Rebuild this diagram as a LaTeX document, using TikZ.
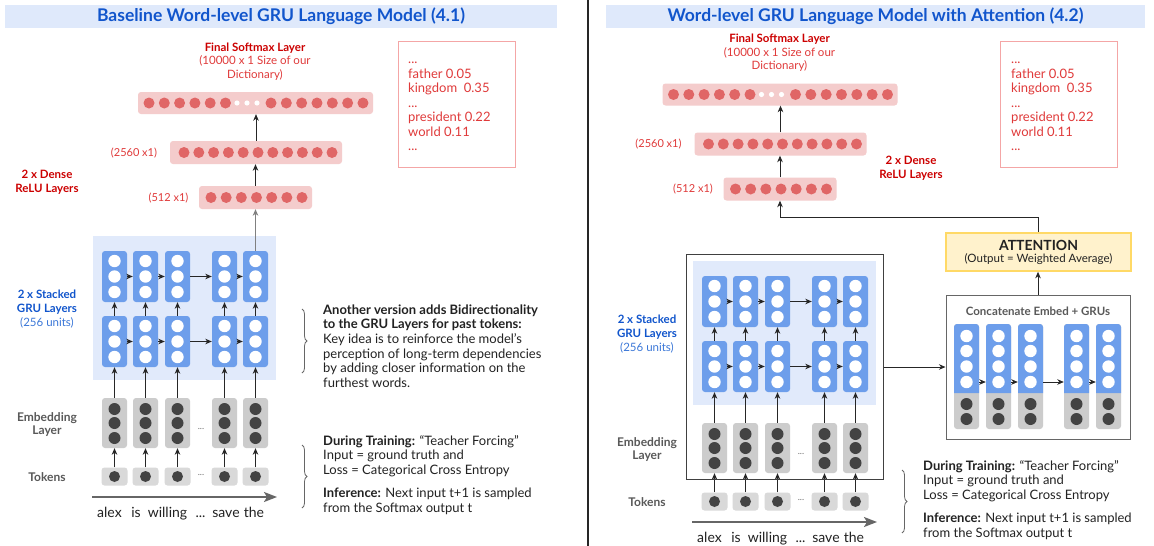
\documentclass[tikz,border=0pt]{standalone}
\usepackage{fontspec}
\setmainfont{Lato}
\usetikzlibrary{arrows.meta,decorations.pathreplacing,calc}
\definecolor{titleblue}{HTML}{1155CC}
\definecolor{lightblue}{HTML}{3C78D8}
\definecolor{bandblue}{HTML}{DFE9FB}
\definecolor{grubg}{HTML}{E1EAFB}
\definecolor{grucell}{HTML}{6D9EEB}
\definecolor{redc}{HTML}{E06666}
\definecolor{redfill}{HTML}{F4CCCC}
\definecolor{redtxt}{HTML}{E03A3A}
\definecolor{darkred}{HTML}{CC0000}
\definecolor{embgray}{HTML}{CCCCCC}
\definecolor{tokgray}{HTML}{D9D9D9}
\definecolor{dotgray}{HTML}{434343}
\definecolor{lblgray}{HTML}{595959}
\definecolor{txtdark}{HTML}{222222}
\definecolor{attfill}{HTML}{FFF2CC}
\definecolor{attdraw}{HTML}{FFD966}
\definecolor{boxred}{HTML}{F4A6A6}
\newcommand\myfs[2]{\fontsize{#1}{#2}\selectfont}
\newcommand\mydots{...}
\tikzset{
 arr/.style={-{Stealth[length=6.5pt,width=5.5pt,inset=2pt]}, line width=0.9pt, draw=black!85},
 garr/.style={arr, draw=black!50},
 bigarr/.style={-{Stealth[length=13pt,width=10pt,inset=3pt]}, line width=2pt, draw=black!60},
 barbox/.style={fill=redfill, rounded corners=3pt, inner sep=0pt},
 grubox/.style={fill=grucell, rounded corners=3pt, minimum width=25pt, minimum height=51pt, inner sep=0pt},
 embbox/.style={fill=embgray, rounded corners=3pt, minimum width=25pt, minimum height=50pt, inner sep=0pt},
 tokbox/.style={fill=tokgray, rounded corners=3pt, minimum width=26pt, minimum height=18pt, inner sep=0pt},
 txt/.style={inner sep=0pt, align=left, anchor=north west},
 ctxt/.style={inner sep=0pt, align=center, anchor=north},
 bracestyle/.style={decorate, decoration={brace, amplitude=5pt}, draw=black!60, line width=0.8pt},
 band/.style={fill=bandblue, inner sep=0pt, minimum height=23pt, text=titleblue, font={\myfs{17.5}{20}\bfseries}},
}
\newcommand\densestack[1]{%
 \node[barbox, minimum width=235pt, minimum height=22pt] (#1sm) at (255.5,103) {};
 \node[barbox, minimum width=172pt, minimum height=23pt] (#1dB) at (256,152.5) {};
 \node[barbox, minimum width=113pt, minimum height=23pt] (#1dA) at (255.5,197.5) {};
 \foreach \i in {0,...,5} \fill[redc] ({149+15.3*\i},103) circle (5.5pt);
 \foreach \xx in {237,247,257} \fill[white] (\xx,103) circle (2.6pt);
 \foreach \i in {0,...,6} \fill[redc] ({271+15.33*\i},103) circle (5.5pt);
 \foreach \i in {0,...,10} \fill[redc] ({184+14.8*\i},152.5) circle (5.5pt);
 \foreach \i in {0,...,6} \fill[redc] ({211+15.17*\i},197.5) circle (5.5pt);
 \draw[arr] (#1dB.north) -- (#1dB.north |- #1sm.south);
 \draw[arr] (#1dA.north) -- (#1dA.north |- #1dB.south);
 \node[ctxt, text=redtxt, font={\myfs{11.5}{13.5}}] (#1smlab) at (255,41.5) {\strut\textcolor{darkred}{\bfseries Final Softmax Layer}\\(10000 x 1 Size of our\\Dictionary)};
 \node[inner sep=0pt, text=redtxt, font={\myfs{11}{13}}] (#1labB) at (134,153) {(2560 x1)};
 \node[inner sep=0pt, text=redtxt, font={\myfs{11}{13}}] (#1labA) at (168.5,198) {(512 x1)};
}
\newcommand\grublock[1]{%
 \node[fill=grubg, inner sep=0pt, minimum width=183pt, minimum height=144pt] (#1bg) at (184.5,308) {};
 \foreach \c/\x in {1/114.5,2/145.5,3/177.5,4/224.5,5/255.5}{
  \node[grubox] (#1a\c) at (\x,276.5) {};
  \node[grubox] (#1b\c) at (\x,341.5) {};
  \node[embbox] (#1e\c) at (\x,423) {};
  \node[tokbox] (#1t\c) at (\x,476.5) {};
  \foreach \dy in {-15.5,0,15.5} {\fill[white] (\x,276.5+\dy) circle (6.2pt); \fill[white] (\x,341.5+\dy) circle (6.2pt);}
  \foreach \dy in {-14,0,15} \fill[dotgray] (\x,423+\dy) circle (6pt);
  \fill[dotgray] (\x,476.5) circle (5.5pt);
 }
 \foreach \c in {1,2,3,4,5}{
  \draw[arr] (#1t\c.north) -- (#1e\c.south);
  \draw[arr] (#1e\c.north) -- (#1b\c.south);
  \draw[arr] (#1b\c.north) -- (#1a\c.south);
 }
 \foreach \c/\d in {1/2,2/3,3/4,4/5}{
  \draw[arr] (#1a\c.east) -- (#1a\d.west);
  \draw[arr] (#1b\c.east) -- (#1b\d.west);
 }
 \node[inner sep=0pt, text=black!55, font={\myfs{9}{11}}, anchor=base] (#1edots) at (201,429) {\mydots};
 \node[inner sep=0pt, text=black!55, font={\myfs{9}{11}}, anchor=base] (#1tdots) at (201,475) {\mydots};
 \node[ctxt, font={\myfs{11.5}{14}}] (#1grulab) at (47,288.2) {\strut\textcolor{titleblue}{\bfseries 2 x Stacked}\\\textcolor{titleblue}{\bfseries GRU Layers}\\\textcolor{lightblue}{(256 units)}};
 \node[ctxt, text=lblgray, font={\myfs{12}{13}\bfseries}] (#1emblab) at (47,411.9) {\strut Embedding\\Layer};
 \node[inner sep=0pt, text=lblgray, font={\myfs{12}{13}\bfseries}, anchor=base] (#1toklab) at (47,481) {Tokens};
 \coordinate (#1la) at (92,497);
 \coordinate (#1lb) at (277,497);
 \draw[bigarr] (#1la) -- (#1lb);
 \foreach \w/\x [count=\k] in {alex/109.5,is/136,willing/167.5,\mydots/200.5,save/226,the/254}
  \node[inner sep=0pt, text=txtdark, font={\myfs{14}{16}}, anchor=base] (#1w\k) at (\x,517) {\w};
 \coordinate (#1bra) at (302,445);
 \coordinate (#1brb) at (302,508);
 \draw[bracestyle] (#1bra) -- (#1brb);
 \node[txt, text=txtdark, font={\myfs{13}{14.6}}] (#1train) at (323,434.8) {\strut\textbf{During Training:} “Teacher Forcing”\\Input = ground truth and\\Loss = Categorical Cross Entropy\\[8.4pt]\textbf{Inference:} Next input t+1 is sampled\\from the Softmax output t};
}
\begin{document}
\begin{tikzpicture}[x=1pt,y=-1pt]
\useasboundingbox (0,0) rectangle (1154,546);
\fill[white] (0,0) rectangle (1154,546);
% titles
\node[band, minimum width=552pt] (titleL) at (281,16.5) {Baseline Word-level GRU Language Model (4.1)};
\node[band, minimum width=539pt] (titleR) at (875.5,16.5) {Word-level GRU Language Model with Attention (4.2)};
\draw[line width=1.3pt, black!85] (588,0) -- (588,546);
% left panel
\densestack{L}
\grublock{L}
\draw[garr] (La5.north) -- (La5.north |- LdA.south);
\node[ctxt, text=darkred, font={\myfs{11.5}{14}\bfseries}] (Ldense) at (47,168.2) {\strut 2 x Dense\\ReLU Layers};
\node[draw=boxred, line width=1pt, minimum width=117pt, minimum height=126pt, inner sep=0pt] (Lbox) at (456.5,104) {};
\node[txt, text=redtxt, font={\myfs{13}{14.5}}] (Lwords) at (408,53.3) {\strut...\\father 0.05\\kingdom\ \ 0.35\\...\\president 0.22\\world 0.11\\...};
\coordinate (Lbr1) at (302,309);
\coordinate (Lbr2) at (302,373);
\draw[bracestyle] (Lbr1) -- (Lbr2);
\node[txt, text=txtdark, font={\myfs{13}{14.6}}] (Lbidir) at (323,303.8) {\strut\textbf{Another version adds Bidirectionality}\\\textbf{to the GRU Layers for past tokens:}\\Key idea is to reinforce the model’s\\perception of long-term dependencies\\by adding closer information on the\\furthest words.};
% right panel
\begin{scope}[shift={(524.5,-8.5)}]
\densestack{R}
\end{scope}
\node[ctxt, text=darkred, font={\myfs{11.5}{14}\bfseries}] (Rdense) at (911,154.2) {\strut 2 x Dense\\ReLU Layers};
\node[draw=boxred, line width=1pt, minimum width=117pt, minimum height=126pt, inner sep=0pt] (Rbox) at (1058.5,104) {};
\node[txt, text=redtxt, font={\myfs{13}{14.5}}] (Rwords) at (1011,53.3) {\strut...\\father 0.05\\kingdom\ \ 0.35\\...\\president 0.22\\world 0.11\\...};
\begin{scope}[shift={(600,25)}]
\grublock{R}
\end{scope}
\node[draw=black!75, line width=1pt, minimum width=197pt, minimum height=225pt, inner sep=0pt] (outer) at (784.5,366.5) {};
\node[draw=black!60, line width=1pt, minimum width=184pt, minimum height=144pt, inner sep=0pt] (concat) at (1038,367) {};
\node[inner sep=0pt, text=lblgray, font={\myfs{11.5}{13}\bfseries}] (concatlab) at (1038,311) {Concatenate Embed + GRUs};
\coordinate (rowy) at (0,382);
\foreach \c/\x in {1/966.5,2/998.5,3/1030.5,4/1076.5,5/1108.5}{
 \node[fill=embgray, rounded corners=3pt, minimum width=25pt, minimum height=105pt, inner sep=0pt] (cc\c) at (\x,376.5) {};
 \fill[grucell] (\x-12.5,393) [rounded corners=3pt] -- (\x-12.5,324) -- (\x+12.5,324) [sharp corners] -- (\x+12.5,393) -- cycle;
 \foreach \yy in {336,351,366.5,382} \fill[white] (\x,\yy) circle (6.2pt);
 \foreach \yy in {404,419} \fill[dotgray] (\x,\yy) circle (6pt);
}
\foreach \c/\d in {1/2,2/3,3/4,4/5}
 \draw[arr] (cc\c.east |- rowy) -- (cc\d.west |- rowy);
\node[fill=attfill, draw=attdraw, line width=1.6pt, minimum width=185pt, minimum height=38pt, inner sep=0pt, align=center, text=txtdark] (att) at (1038.5,252) {{\myfs{14}{15}\bfseries ATTENTION}\\{\myfs{11.5}{13}(Output = Weighted Average)}};
\draw[arr] (outer.east |- concat.west) -- (concat.west);
\draw[arr] (concat.north) -- (concat.north |- att.south);
\coordinate (turn) at (1038.5,217);
\draw[arr] (att.north) -- (att.north |- turn) -| (RdA.south);
\end{tikzpicture}
\end{document}
